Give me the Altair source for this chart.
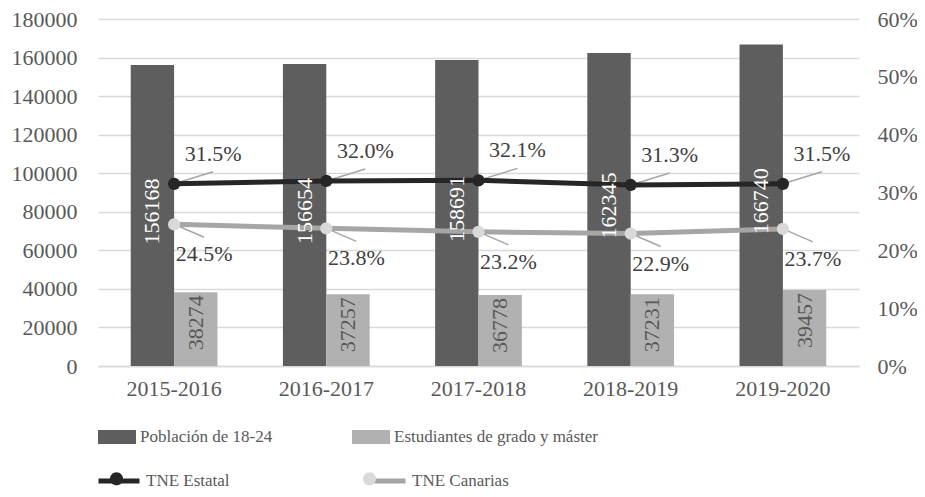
import altair as alt
import pandas as pd

years = ["2015-2016", "2016-2017", "2017-2018", "2018-2019", "2019-2020"]
poblacion = [156168, 156654, 158691, 162345, 166740]
estudiantes = [38274, 37257, 36778, 37231, 39457]
tne_estatal = [0.315, 0.320, 0.321, 0.313, 0.315]
tne_canarias = [0.245, 0.238, 0.232, 0.229, 0.237]

bar_names = ["Población de 18-24", "Estudiantes de grado y máster"]
line_names = ["TNE Estatal", "TNE Canarias"]
marker_names = [n + " " for n in line_names]

FONT = "Liberation Serif"
DARK = "#5e5e5e"
LIGHT = "#b1b1b1"
BLACK = "#262626"
GRAYLINE = "#a6a6a6"
GRAYMARK = "#d9d9d9"
TXT = "#595959"

bars_df = pd.DataFrame({
    "year": years * 2,
    "serie": [bar_names[0]] * len(years) + [bar_names[1]] * len(years),
    "value": poblacion + estudiantes,
})
bars_df["half"] = bars_df["value"] / 2
lines_df = pd.DataFrame({
    "year": years * 2,
    "serie": [line_names[0]] * len(years) + [line_names[1]] * len(years),
    "serie_m": [marker_names[0]] * len(years) + [marker_names[1]] * len(years),
    "rate": tne_estatal + tne_canarias,
})

x_enc = alt.X(
    "year:N", sort=years, title=None,
    scale=alt.Scale(domain=years, paddingInner=0.43, paddingOuter=0.215),
    axis=alt.Axis(labelAngle=0, labelPadding=12, domainColor="#d9d9d9",
                  domainWidth=1.5, ticks=False, grid=False),
)
xoff = alt.XOffset("serie:N", sort=bar_names,
                   scale=alt.Scale(domain=bar_names, paddingInner=0, paddingOuter=0))
yscale_left = alt.Scale(domain=[0, 180000], nice=False)
yscale_right = alt.Scale(domain=[0, 0.6], nice=False)
left_axis = alt.Axis(values=list(range(0, 180001, 20000)), format="d",
                     domain=False, ticks=False, labelPadding=21,
                     gridColor="#d9d9d9", gridWidth=1.5)

LEG_FS = 17

bars = alt.Chart(bars_df).mark_bar().encode(
    x=x_enc,
    xOffset=xoff,
    y=alt.Y("value:Q", scale=yscale_left, title=None, axis=left_axis),
    color=alt.Color("serie:N", sort=bar_names,
                    scale=alt.Scale(domain=bar_names, range=[DARK, LIGHT]),
                    legend=alt.Legend(
                        title=None, orient="none", legendX=0, legendY=399,
                        direction="horizontal", columns=2, columnPadding=79,
                        symbolType="M-1,-0.37H1V0.37H-1Z", symbolSize=1444,
                        symbolStrokeWidth=0, labelOffset=4, labelLimit=500,
                        labelFont=FONT, labelFontSize=LEG_FS, labelColor=TXT,
                        padding=0)),
)

dark_labels = alt.Chart(bars_df).transform_filter(
    alt.datum.serie == bar_names[0]
).mark_text(
    angle=270, align="center", baseline="middle", color="#ffffff",
    font=FONT, fontSize=22, yOffset=-4,
).encode(
    x=x_enc, xOffset=xoff,
    y=alt.Y("half:Q", scale=yscale_left, title=None, axis=None),
    text=alt.Text("value:Q", format="d"),
)

light_labels = alt.Chart(bars_df).transform_filter(
    alt.datum.serie == bar_names[1]
).mark_text(
    angle=270, align="right", baseline="middle", color=TXT,
    font=FONT, fontSize=22, yOffset=3,
).encode(
    x=x_enc, xOffset=xoff,
    y=alt.Y("value:Q", scale=yscale_left, title=None, axis=None),
    text=alt.Text("value:Q", format="d"),
)

bar_labels = alt.layer(dark_labels, light_labels)

y_right = alt.Y("rate:Q", scale=yscale_right, title=None,
                axis=alt.Axis(orient="right", values=[0, 0.1, 0.2, 0.3, 0.4, 0.5, 0.6],
                              format=".0%", grid=False, domain=False, ticks=False,
                              labelPadding=18))

leaders_top = alt.Chart(lines_df).transform_filter(
    alt.datum.serie == line_names[0]
).mark_rule(color=GRAYLINE, strokeWidth=1.5, x2Offset=39, y2Offset=-12).encode(
    x=x_enc, y=y_right,
    x2=alt.X2("year:N", bandPosition=0.5), y2=alt.Y2("rate:Q"),
)
leaders_bot = alt.Chart(lines_df).transform_filter(
    alt.datum.serie == line_names[1]
).mark_rule(color=GRAYLINE, strokeWidth=1.5, x2Offset=30, y2Offset=13).encode(
    x=x_enc, y=y_right,
    x2=alt.X2("year:N", bandPosition=0.5), y2=alt.Y2("rate:Q"),
)

lines = alt.Chart(lines_df).mark_line(strokeWidth=5).encode(
    x=x_enc, y=y_right,
    stroke=alt.Stroke("serie:N", sort=line_names,
                      scale=alt.Scale(domain=line_names, range=[BLACK, GRAYLINE]),
                      legend=alt.Legend(
                          title=None, orient="none", legendX=-2, legendY=439,
                          direction="horizontal", columns=2, columnPadding=124,
                          symbolType="M-1,0H1", symbolSize=1681,
                          symbolStrokeWidth=5, labelOffset=4, labelLimit=500,
                          labelFont=FONT, labelFontSize=LEG_FS, labelColor=TXT,
                          padding=0)),
)

points = alt.Chart(lines_df).mark_point(filled=True, size=150, opacity=1).encode(
    x=x_enc, y=y_right,
    fill=alt.Fill("serie_m:N", sort=marker_names,
                  scale=alt.Scale(domain=marker_names, range=[BLACK, GRAYMARK]),
                  legend=alt.Legend(
                      title=None, orient="none", legendX=-2, legendY=439,
                      direction="horizontal", columns=2, columnPadding=124,
                      symbolType="M-0.32,0A0.32,0.32 0 1,1 0.32,0A0.32,0.32 0 1,1 -0.32,0Z",
                      symbolSize=1681, symbolStrokeWidth=0, labelOffset=4,
                      labelLimit=500,
                      labelExpr="trim(datum.label)", labelOpacity=0,
                      labelFont=FONT, labelFontSize=LEG_FS, labelColor=TXT,
                      padding=0)),
)

pct_top = alt.Chart(lines_df).transform_filter(
    alt.datum.serie == line_names[0]
).mark_text(dx=39, dy=-30, align="center", baseline="middle",
            font=FONT, fontSize=22, color="#404040").encode(
    x=x_enc, y=y_right, text=alt.Text("rate:Q", format=".1%"),
)
pct_bot = alt.Chart(lines_df).transform_filter(
    alt.datum.serie == line_names[1]
).mark_text(dx=30, dy=30, align="center", baseline="middle",
            font=FONT, fontSize=22, color="#404040").encode(
    x=x_enc, y=y_right, text=alt.Text("rate:Q", format=".1%"),
)

right = alt.layer(leaders_top, leaders_bot, lines, points, pct_top, pct_bot)

chart = alt.layer(bars, right, bar_labels).resolve_scale(
    y="independent"
).properties(
    width=761, height=347,
    autosize="none",
    padding={"left": 90, "top": 11, "right": 58, "bottom": 123},
).configure_axis(
    labelFont=FONT, labelFontSize=22, labelColor=TXT,
).configure_view(stroke=None)

chart.save("out.html", embed_options={"renderer": "svg", "actions": False})
